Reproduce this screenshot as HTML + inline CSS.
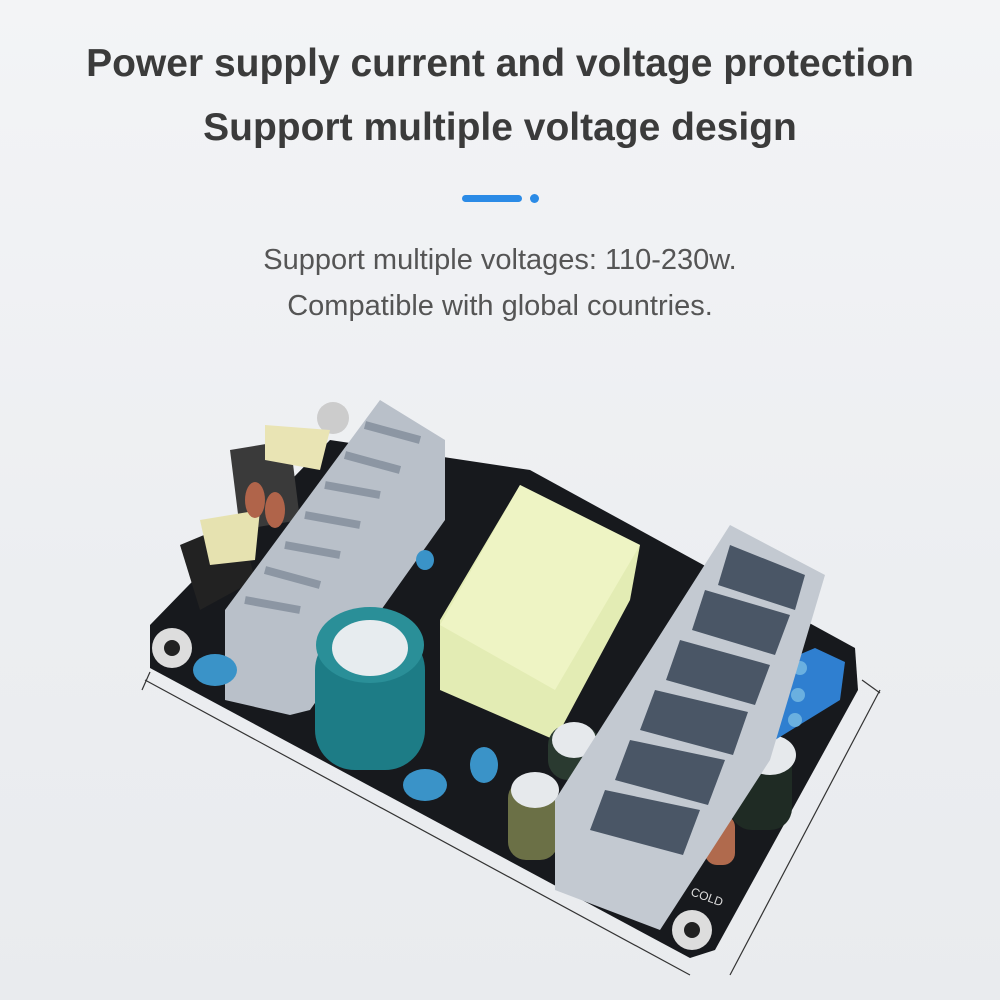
<!DOCTYPE html>
<html><head><meta charset="utf-8"><style>
html,body{margin:0;padding:0}
body{width:1000px;height:1000px;overflow:hidden;background:linear-gradient(180deg,#f3f4f6 0%,#eceef1 60%,#e9ebee 100%);font-family:"Liberation Sans",sans-serif;position:relative}
.t{position:absolute;left:0;width:1000px;text-align:center;color:#3b3b3b;font-weight:bold;font-size:39px}
.s{position:absolute;left:0;width:1000px;text-align:center;color:#555;font-size:29px}
</style></head><body>
<div class="t" style="top:42px">Power supply current and voltage protection</div>
<div class="t" style="top:106px">Support multiple voltage design</div>
<div style="position:absolute;left:462px;top:195px;width:60px;height:7px;border-radius:4px;background:#2b8be6"></div>
<div style="position:absolute;left:530px;top:194px;width:9px;height:9px;border-radius:50%;background:#2b8be6"></div>
<div class="s" style="top:244px">Support multiple voltages: 110-230w.</div>
<div class="s" style="top:290px">Compatible with global countries.</div>
<svg width="1000" height="1000" style="position:absolute;left:0;top:0">
<g stroke="#333" stroke-width="1.2" fill="none">
<line x1="145" y1="680" x2="690" y2="975"/><line x1="150" y1="672" x2="142" y2="690"/>
<line x1="880" y1="690" x2="730" y2="975"/><line x1="862" y1="680" x2="880" y2="693"/>
</g>
<polygon points="150,625 330,440 530,470 855,648 858,690 715,950 690,958 150,668" fill="#17191d"/>
<circle cx="172" cy="648" r="20" fill="#ddd"/><circle cx="172" cy="648" r="8" fill="#222"/>
<circle cx="692" cy="930" r="20" fill="#ddd"/><circle cx="692" cy="930" r="8" fill="#222"/>
<circle cx="333" cy="418" r="16" fill="#ccc"/>
<polygon points="180,545 240,520 255,580 200,610" fill="#222"/>
<polygon points="230,450 290,440 300,520 240,530" fill="#3a3a3a"/>
<polygon points="265,425 330,430 320,470 265,460" fill="#e9e4b4"/>
<polygon points="200,520 260,510 255,560 210,565" fill="#e6e2b0"/>
<ellipse cx="255" cy="500" rx="10" ry="18" fill="#b0644a"/><ellipse cx="275" cy="510" rx="10" ry="18" fill="#b0644a"/>
<polygon points="225,610 380,400 445,440 445,520 310,710 290,715 225,700" fill="#b9c0c9"/>
<g stroke="#8c96a3" stroke-width="8">
<line x1="245" y1="600" x2="300" y2="610"/><line x1="265" y1="570" x2="320" y2="585"/><line x1="285" y1="545" x2="340" y2="555"/>
<line x1="305" y1="515" x2="360" y2="525"/><line x1="325" y1="485" x2="380" y2="495"/><line x1="345" y1="455" x2="400" y2="470"/><line x1="365" y1="425" x2="420" y2="440"/>
</g>
<rect x="315" y="630" width="110" height="140" rx="40" fill="#1d7c86"/>
<ellipse cx="370" cy="645" rx="54" ry="38" fill="#2a8f98"/>
<ellipse cx="370" cy="648" rx="38" ry="28" fill="#e7ecef"/>
<polygon points="440,620 520,485 640,545 630,600 555,740 440,690" fill="#e3ecb4"/>
<polygon points="520,485 640,545 555,690 440,625" fill="#eef4c4"/>
<ellipse cx="215" cy="670" rx="22" ry="16" fill="#3a93c8"/>
<ellipse cx="425" cy="785" rx="22" ry="16" fill="#3a93c8"/>
<ellipse cx="484" cy="765" rx="14" ry="18" fill="#3a93c8"/>
<ellipse cx="425" cy="560" rx="9" ry="10" fill="#3a93c8"/>
<rect x="548" y="725" width="52" height="55" rx="20" fill="#2a3a30"/><ellipse cx="574" cy="740" rx="22" ry="18" fill="#e6e9ec"/>
<rect x="508" y="780" width="50" height="80" rx="18" fill="#6b7046"/><ellipse cx="535" cy="790" rx="24" ry="18" fill="#e6e9ec"/>
<rect x="730" y="735" width="62" height="95" rx="22" fill="#1f2b24"/><ellipse cx="770" cy="755" rx="26" ry="20" fill="#e6e9ec"/>
<rect x="705" y="815" width="30" height="50" rx="12" fill="#b06a4d"/>
<polygon points="763,670 815,648 845,662 840,700 775,740 763,730" fill="#2f7fd0"/>
<circle cx="800" cy="668" r="7" fill="#6ab0e0"/><circle cx="798" cy="695" r="7" fill="#6ab0e0"/><circle cx="795" cy="720" r="7" fill="#6ab0e0"/>
<polygon points="555,800 730,525 825,575 770,760 660,930 555,890" fill="#c3c9d1"/>
<g fill="#4a5666">
<polygon points="730,545 805,575 795,610 718,585"/>
<polygon points="705,590 790,615 775,655 692,630"/>
<polygon points="680,640 770,665 755,705 666,680"/>
<polygon points="655,690 748,712 733,755 640,730"/>
<polygon points="630,740 725,760 708,805 615,780"/>
<polygon points="605,790 700,810 683,855 590,830"/>
</g>
<text x="690" y="895" fill="#ddd" font-size="12" transform="rotate(20 690 895)">COLD</text>
</svg>
</body></html>
